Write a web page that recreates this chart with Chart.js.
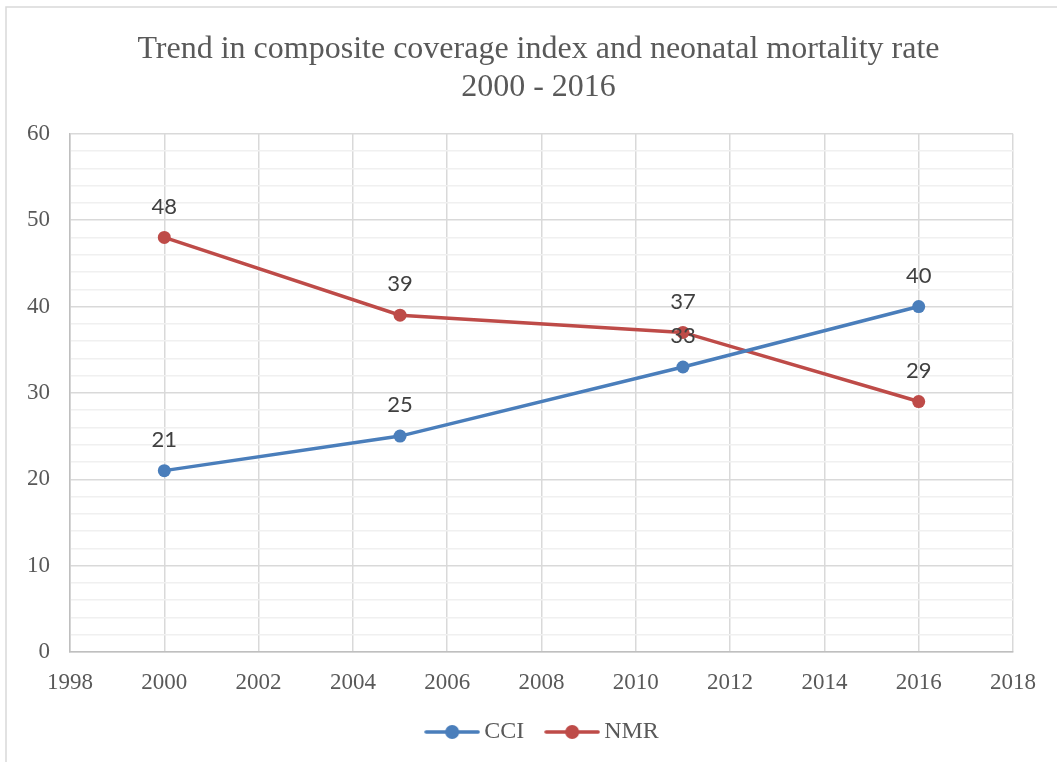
<!DOCTYPE html>
<html>
<head>
<meta charset="utf-8">
<script src="https://cdn.jsdelivr.net/npm/chart.js@4.4.1/dist/chart.umd.min.js"></script>
<style>
  html, body { margin: 0; padding: 0; background: #ffffff; }
  #wrap { width: 1057px; height: 762px; position: relative; }
</style>
</head>
<body>
<div id="wrap"><canvas id="c" width="1057" height="762"></canvas></div>
<script>
const years = [2000, 2005, 2011, 2016];
const cciValues = [21, 25, 33, 40];
const nmrValues = [48, 39, 37, 29];
const seriesNames = ['CCI', 'NMR'];
const titleLines = ['Trend in composite coverage index and neonatal mortality rate', '2000 - 2016'];

const BLUE = '#4a7ebb';
const RED = '#be4b48';
const TEXT = '#595959';

function legendIcon(color) {
  const c = document.createElement('canvas');
  c.width = 56; c.height = 18;
  const g = c.getContext('2d');
  g.strokeStyle = color; g.lineWidth = 3.5; g.lineCap = 'round';
  g.beginPath(); g.moveTo(2, 9); g.lineTo(54, 9); g.stroke();
  g.fillStyle = color;
  g.beginPath(); g.arc(28, 9, 7, 0, Math.PI * 2); g.fill();
  return c;
}

const frame = {
  id: 'frame',
  beforeDraw(chart) {
    const ctx = chart.ctx;
    ctx.save();
    ctx.strokeStyle = '#d9d9d9';
    ctx.lineWidth = 1.5;
    ctx.beginPath();
    ctx.moveTo(6, 1000); ctx.lineTo(6, 7); ctx.lineTo(1100, 7);
    ctx.stroke();
    ctx.restore();
  }
};

const blockPlace = {
  id: 'blockPlace',
  afterLayout(chart) {
    const lg = chart.legend;
    if (lg) {
      const dx = 39;
      lg.left += dx; lg.right += dx;
      const dy = 692 - lg.top;
      lg.top += dy; lg.bottom += dy;
    }
    const tb = chart.titleBlock;
    if (tb) {
      tb.left += 32; tb.right += 32;
    }
  }
};

const dataLabels = {
  id: 'dataLabels',
  afterDatasetsDraw(chart) {
    const ctx = chart.ctx;
    ctx.save();
    ctx.font = '22px Lato, "Liberation Sans", sans-serif';
    ctx.fillStyle = '#404040';
    ctx.textAlign = 'center';
    ctx.textBaseline = 'middle';
    chart.data.datasets.forEach((ds, i) => {
      const meta = chart.getDatasetMeta(i);
      meta.data.forEach((pt, j) => {
        ctx.fillText(String(ds.data[j].y), pt.x, pt.y - 31);
      });
    });
    ctx.restore();
  }
};

const mk = (vals) => years.map((x, i) => ({ x: x, y: vals[i] }));

new Chart(document.getElementById('c'), {
  type: 'line',
  data: {
    datasets: [
      { label: seriesNames[0], data: mk(cciValues), borderColor: BLUE, backgroundColor: BLUE,
        borderWidth: 3.5, pointRadius: 6.5, pointBackgroundColor: BLUE, pointBorderWidth: 0,
        pointStyle: 'circle', tension: 0, _icon: legendIcon(BLUE) },
      { label: seriesNames[1], data: mk(nmrValues), borderColor: RED, backgroundColor: RED,
        borderWidth: 3.5, pointRadius: 6.5, pointBackgroundColor: RED, pointBorderWidth: 0,
        pointStyle: 'circle', tension: 0, _icon: legendIcon(RED) }
    ]
  },
  options: {
    responsive: false,
    animation: false,
    devicePixelRatio: 1,
    layout: { padding: { left: 0, right: 44, top: 8, bottom: 0 } },
    plugins: {
      tooltip: { enabled: false },
      title: {
        display: true,
        text: titleLines,
        color: TEXT,
        font: { family: '"Liberation Serif", serif', size: 32, weight: 'normal', lineHeight: 1.2 },
        padding: { top: 22, bottom: 27 }
      },
      legend: {
        position: 'bottom',
        labels: {
          usePointStyle: true,
          pointStyleWidth: 40,
          color: TEXT,
          font: { family: '"Liberation Serif", serif', size: 24 },
          padding: 28,
          generateLabels(chart) {
            return chart.data.datasets.map((ds, i) => ({
              text: ds.label,
              fillStyle: ds.borderColor,
              strokeStyle: ds.borderColor,
              lineWidth: 0,
              pointStyle: ds._icon,
              fontColor: TEXT,
              hidden: false,
              datasetIndex: i
            }));
          }
        }
      }
    },
    scales: {
      x: {
        type: 'linear',
        min: 1998, max: 2018,
        afterFit(s) { s.height = 48; },
        ticks: {
          stepSize: 2,
          color: TEXT,
          font: { family: '"Liberation Serif", serif', size: 23 },
          padding: 17,
          maxRotation: 0,
          callback: (v) => String(v)
        },
        grid: { color: '#d9d9d9', lineWidth: 1.5, drawTicks: false },
        border: { color: '#bfbfbf', width: 1.5 }
      },
      y: {
        min: 0, max: 60,
        afterFit(s) { s.width = 70; },
        ticks: {
          stepSize: 2,
          autoSkip: false,
          color: TEXT,
          font: { family: '"Liberation Serif", serif', size: 23 },
          padding: 20,
          callback: (v) => (v % 10 === 0 ? String(v) : '')
        },
        grid: {
          color: (c) => (c.tick && c.tick.value % 10 === 0 ? '#d9d9d9' : '#f0f0f0'),
          lineWidth: 1.5,
          drawTicks: false
        },
        border: { color: '#bfbfbf', width: 1.5 }
      }
    }
  },
  plugins: [frame, blockPlace, dataLabels]
});
</script>
</body>
</html>
